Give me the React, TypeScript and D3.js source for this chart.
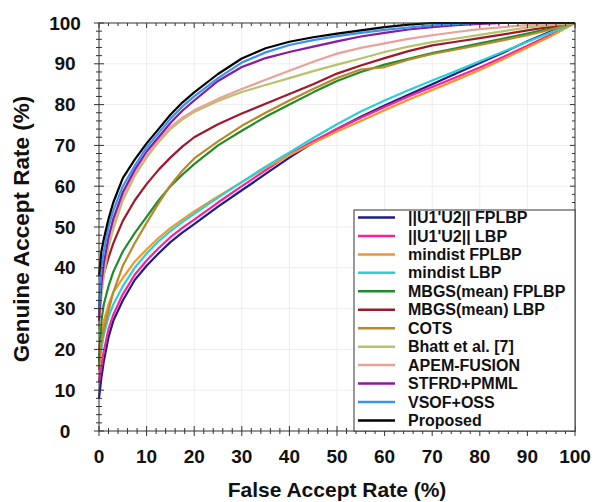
import React from "react";
import * as d3 from "d3";

const FAR = [0, 0.5, 1, 2, 3, 5, 7.5, 10, 12.5, 15, 17.5, 20, 25, 30, 35, 40, 45, 50, 55, 60, 65, 70, 75, 80, 85, 90, 95, 100];

const u1u2Fplbp = [8, 13, 17, 23, 27, 32, 37, 40.5, 43.5, 46.3, 48.6, 50.7, 55, 59, 63, 67, 70.7, 74, 77, 79.8, 82.4, 85, 87.6, 90.2, 92.8, 95.5, 98, 100];
const u1u2Lbp = [12, 16, 19.5, 25, 28.5, 33.5, 38.3, 41.8, 44.8, 47.5, 49.8, 51.8, 56, 60, 63.9, 67.8, 71, 74, 76.8, 79.4, 82, 84.3, 86.7, 89.1, 91.7, 94.4, 97.2, 100];
const mindistFplbp = [20, 24, 27, 31, 34, 37.5, 41.5, 44.5, 47.3, 49.7, 51.8, 53.8, 57.5, 61, 64.5, 67.6, 70.6, 73.4, 76, 78.6, 81.2, 83.6, 86, 88.5, 91.2, 94, 96.8, 100];
const mindistLbp = [16, 20, 23.5, 28, 31, 35.5, 40, 43.5, 46.5, 49, 51.2, 53.2, 57.2, 61, 64.8, 68.3, 71.8, 75.2, 78.3, 81, 83.5, 85.9, 88.2, 90.6, 93, 95.4, 97.7, 100];
const mbgsFplbp = [17, 27, 31, 35.5, 39, 44, 48.5, 52.5, 56.5, 60, 62.8, 65.4, 70, 73.6, 77, 80, 83, 85.8, 88, 89.8, 91.2, 92.6, 93.8, 95, 96.2, 97.4, 98.7, 100];
const mbgsLbp = [28, 35, 38.5, 42.5, 46, 51.5, 56.5, 60.5, 64, 67, 69.7, 72, 75.2, 77.8, 80.2, 82.6, 85, 87.6, 89.6, 91.4, 93.1, 94.5, 95.4, 96.3, 97.2, 98.2, 99.1, 100];
const cots = [15, 22, 25, 29.5, 34, 40.5, 46, 51, 55.8, 60.2, 63.8, 66.8, 71, 74.8, 78, 81, 83.8, 86.5, 88.6, 89.2, 91, 92.4, 93.5, 94.6, 95.8, 97, 98.4, 100];
const bhatt = [25, 33, 38, 45, 49.5, 56.5, 62.5, 67, 70.8, 74, 76.3, 78.2, 80.9, 83.1, 84.8, 86.5, 88.2, 89.8, 91.3, 92.9, 94.2, 95.3, 96.2, 97.1, 98, 98.9, 99.5, 100];
const apemFusion = [27, 35, 40, 46.5, 51, 57.5, 63, 67.5, 71.3, 74.5, 76.8, 78.6, 81.4, 83.8, 86.1, 88.3, 90.5, 92.5, 93.9, 95, 96.1, 97, 97.8, 98.5, 99, 99.5, 99.8, 100];
const stfrd = [27, 36, 41, 47.5, 52, 58.5, 64, 68.5, 72, 75.5, 78.5, 81, 85.8, 89.2, 91.4, 92.9, 94.2, 95.5, 96.7, 97.6, 98.4, 99, 99.5, 99.8, 100, 100, 100, 100];
const vsof = [30, 40, 44, 50, 54, 60, 65, 69.5, 73, 76.5, 79.5, 82, 86.5, 90.3, 92.8, 94.6, 95.8, 96.8, 97.6, 98.3, 98.9, 99.4, 99.8, 100, 100, 100, 100, 100];
const proposed = [38, 44, 47, 52, 56, 62, 66.5, 70.5, 74, 77.5, 80.5, 83, 87.5, 91.3, 93.8, 95.4, 96.5, 97.4, 98.2, 99, 99.6, 100, 100, 100, 100, 100, 100, 100];

const seriesNames = ["||U1'U2|| FPLBP", "||U1'U2|| LBP", "mindist FPLBP", "mindist LBP", "MBGS(mean) FPLBP", "MBGS(mean) LBP", "COTS", "Bhatt et al. [7]", "APEM-FUSION", "STFRD+PMML", "VSOF+OSS", "Proposed"];
const seriesValues = [u1u2Fplbp, u1u2Lbp, mindistFplbp, mindistLbp, mbgsFplbp, mbgsLbp, cots, bhatt, apemFusion, stfrd, vsof, proposed];
const seriesColors = ["#1c1c8a", "#ff1f9a", "#f5952a", "#2ad0d8", "#1e8c2a", "#a0182c", "#b8892a", "#b5c46a", "#e8a29a", "#8a1aa0", "#3a92f0", "#000000"];

const xTicks = [0, 10, 20, 30, 40, 50, 60, 70, 80, 90, 100];
const yTicks = [0, 10, 20, 30, 40, 50, 60, 70, 80, 90, 100];

export default function App() {
  const W = 595, H = 502;
  const L = 99, R = 575, T = 23, B = 431;
  const x = d3.scaleLinear().domain([0, 100]).range([L, R]);
  const y = d3.scaleLinear().domain([0, 100]).range([B, T]);
  const line = d3.line<[number, number]>().x(d => x(d[0])).y(d => y(d[1]));
  const minor = d3.range(0, 101, 2);
  const font = "Arial, 'Liberation Sans', sans-serif";
  const axisCol = "#333";

  const legX = 354, legY = 210;
  const rowH = 18.45;

  return (
    <svg width={W} height={H} style={{ position: "absolute", left: 0, top: 0 }} fontFamily={font}>
      <rect x={0} y={0} width={W} height={H} fill="#fff" />
      {xTicks.slice(1, -1).map(t => (
        <line key={"gx" + t} x1={x(t)} x2={x(t)} y1={T} y2={B} stroke="#ededed" strokeWidth={1} />
      ))}
      {yTicks.slice(1, -1).map(t => (
        <line key={"gy" + t} x1={L} x2={R} y1={y(t)} y2={y(t)} stroke="#ededed" strokeWidth={1} />
      ))}
      {seriesValues.map((vals, i) => (
        <path key={seriesNames[i]} d={line(FAR.map((f, j) => [f, vals[j]] as [number, number])) || ""}
          fill="none" stroke={seriesColors[i]} strokeWidth={2.2} strokeLinejoin="round" />
      ))}
      <rect x={L} y={T} width={R - L} height={B - T} fill="none" stroke={axisCol} strokeWidth={1} />
      {minor.map(t => {
        const maj = t % 10 === 0;
        const a = maj ? 5 : 3;
        return (
          <g key={"t" + t} stroke={axisCol} strokeWidth={1}>
            <line x1={x(t)} x2={x(t)} y1={B - a} y2={B + a} />
            <line x1={x(t)} x2={x(t)} y1={T} y2={T + a} />
            <line x1={L - a} x2={L + a} y1={y(t)} y2={y(t)} />
            <line x1={R - a} x2={R} y1={y(t)} y2={y(t)} />
          </g>
        );
      })}
      {xTicks.map(t => (
        <text key={"xl" + t} x={x(t)} y={463} textAnchor="middle" fontSize={19} fontWeight="bold" fill="#111">{t}</text>
      ))}
      {yTicks.map(t => (
        <text key={"yl" + t} x={65} y={y(t)} dy="0.35em" textAnchor="middle" fontSize={19} fontWeight="bold" fill="#111">{t}</text>
      ))}
      <text x={(L + R) / 2} y={497} textAnchor="middle" fontSize={21} fontWeight="bold" fill="#111">False Accept Rate (%)</text>
      <text transform={`translate(29,${(T + B) / 2 + 2}) rotate(-90)`} textAnchor="middle" fontSize={22.5} fontWeight="bold" fill="#111">Genuine Accept Rate (%)</text>
      <rect x={legX} y={legY} width={R - legX} height={B - legY} fill="#fff" stroke={axisCol} strokeWidth={1} />
      {seriesNames.map((n, i) => {
        const cy = 217.5 + i * rowH;
        return (
          <g key={"lg" + n}>
            <line x1={358} x2={395} y1={cy} y2={cy} stroke={seriesColors[i]} strokeWidth={2.5} />
            <text x={408} y={cy} dy="0.35em" fontSize={16} fontWeight="bold" fill="#111">{n}</text>
          </g>
        );
      })}
    </svg>
  );
}
